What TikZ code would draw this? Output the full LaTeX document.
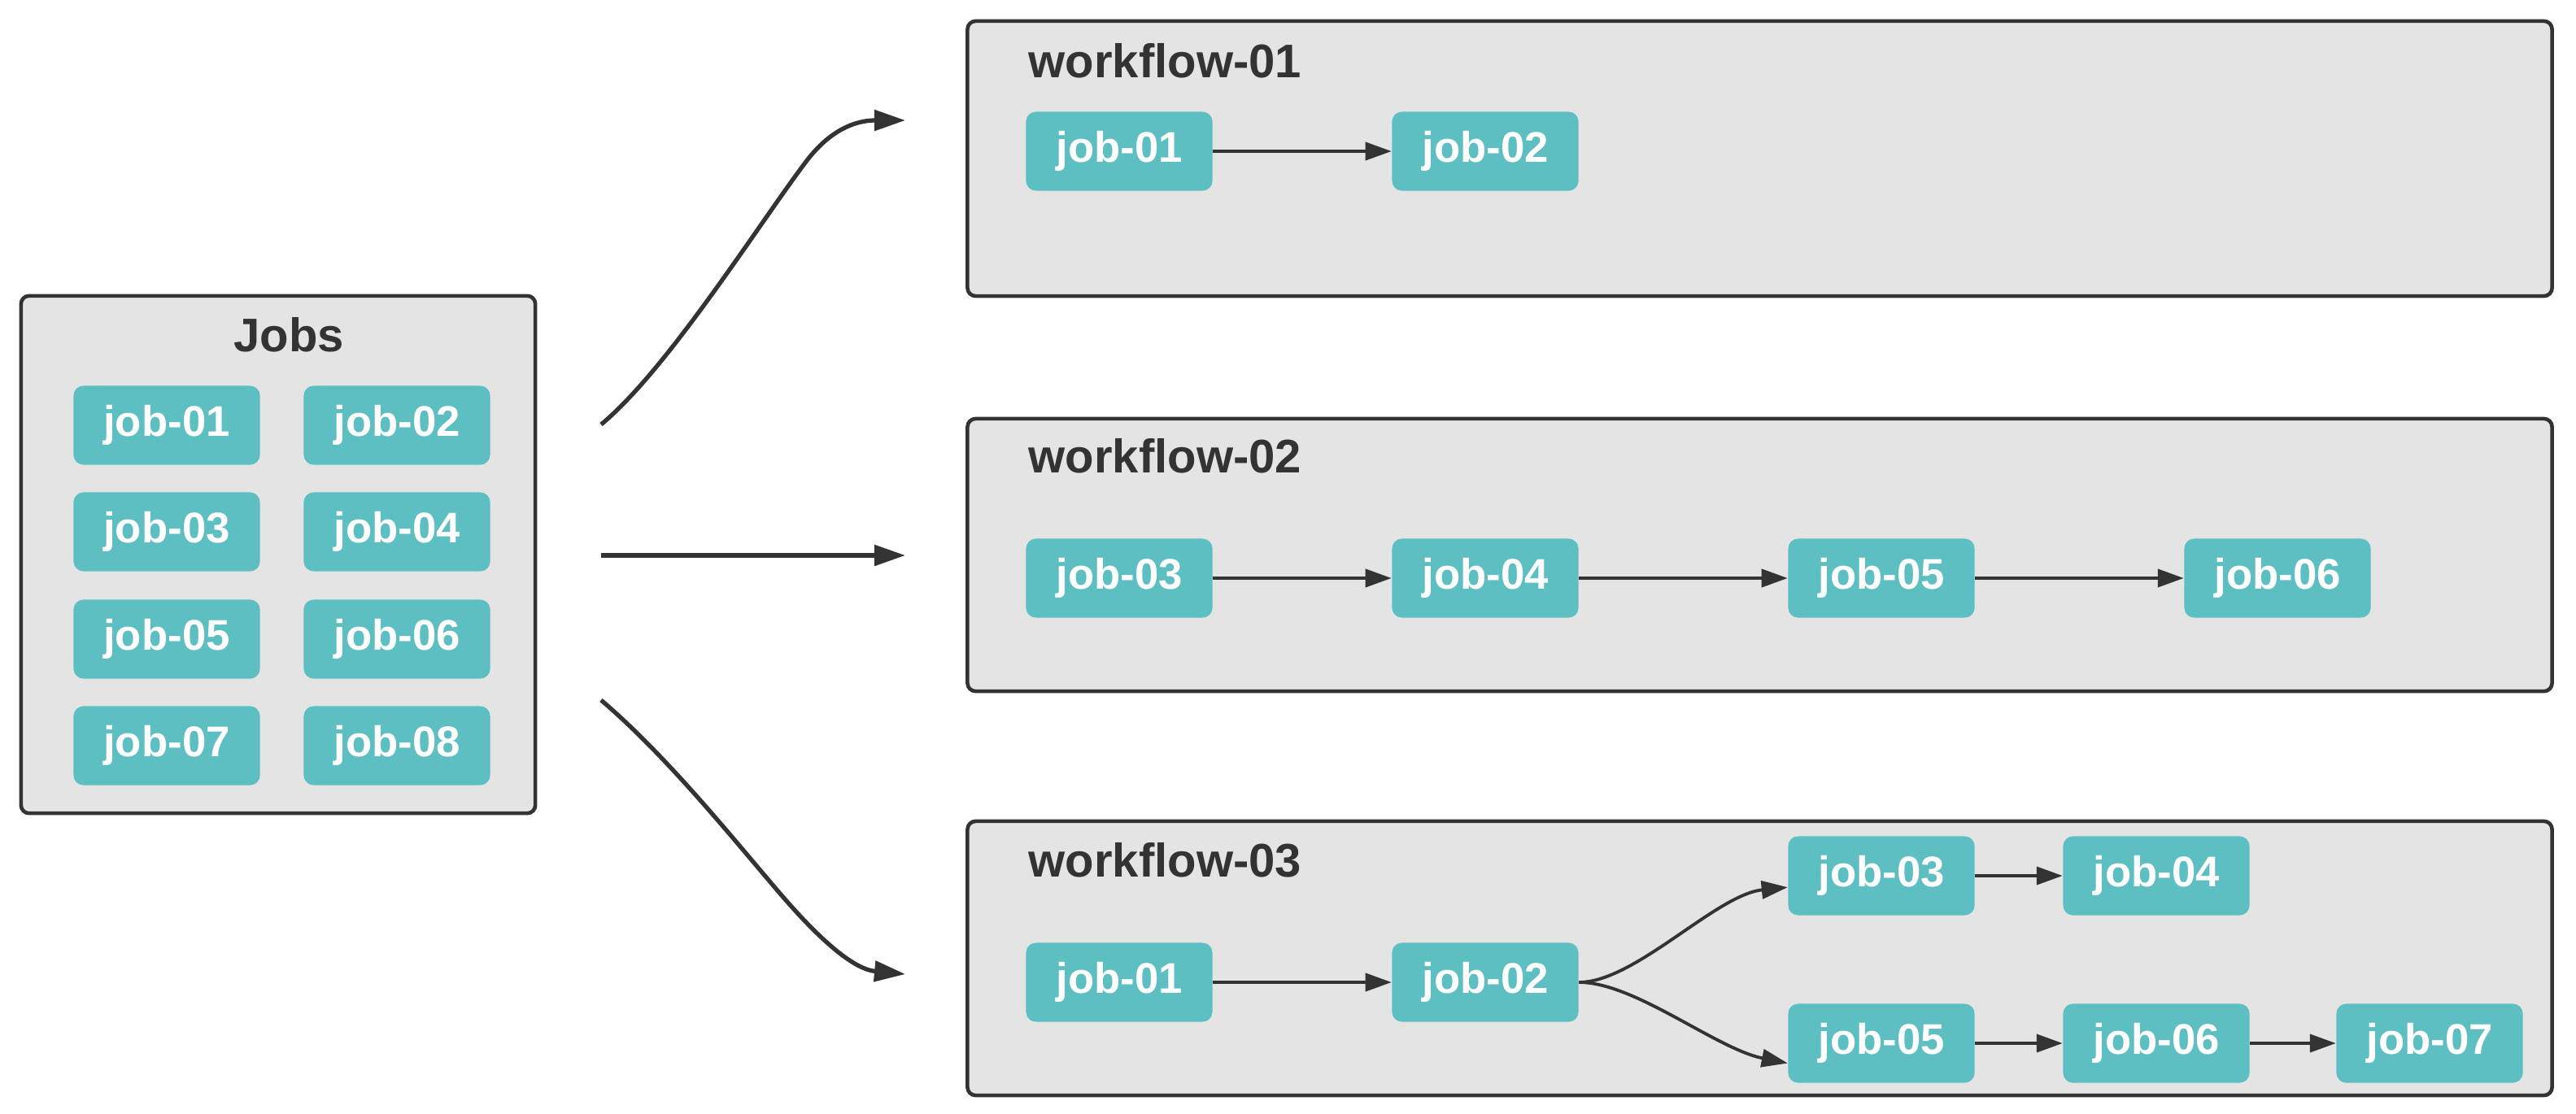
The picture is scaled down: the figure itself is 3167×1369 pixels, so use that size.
\documentclass[tikz,border=0pt]{standalone}
\usepackage{fontspec}
\setmainfont{Liberation Sans}
\usetikzlibrary{arrows.meta}
\definecolor{teal}{HTML}{5DBFC1}
\definecolor{panel}{HTML}{E4E4E4}
\definecolor{ink}{HTML}{333333}
\tikzset{
  outerbox/.style={draw=ink, fill=panel, line width=1.3pt, rounded corners=0.1cm, inner sep=0pt},
  jobbox/.style={fill=teal, rounded corners=0.12cm, minimum width=2.29cm, minimum height=0.97cm, inner sep=0pt,
     text=white, font=\fontsize{15}{18}\selectfont\bfseries},
  title/.style={text=ink, font=\fontsize{16.5}{20}\selectfont\bfseries, inner sep=0pt},
  flow/.style={draw=ink, line width=1.1pt, -{Triangle[length=0.32cm,width=0.22cm]}},
  bigflow/.style={draw=ink, line width=1.5pt, -{Triangle[length=0.38cm,width=0.25cm]}}
}
\begin{document}
\begin{tikzpicture}[x=0.01cm,y=-0.01cm]
\useasboundingbox (0,0) rectangle (3167,1369);
% Jobs pool
\node[outerbox, minimum width=6.32cm, minimum height=6.36cm] (jobs) at (342,682) {};
\node[title, anchor=center] (jobstitle) at (355,412) {Jobs};
\node[jobbox] (p1) at (205,523) {job-01};
\node[jobbox] (p2) at (488,523) {job-02};
\node[jobbox] (p3) at (205,654) {job-03};
\node[jobbox] (p4) at (488,654) {job-04};
\node[jobbox] (p5) at (205,786) {job-05};
\node[jobbox] (p6) at (488,786) {job-06};
\node[jobbox] (p7) at (205,917) {job-07};
\node[jobbox] (p8) at (488,917) {job-08};
% workflow containers
\node[outerbox, minimum width=19.47cm, minimum height=3.38cm] (wf1) at (2163.5,195) {};
\node[outerbox, minimum width=19.47cm, minimum height=3.35cm] (wf2) at (2163.5,682.5) {};
\node[outerbox, minimum width=19.47cm, minimum height=3.37cm] (wf3) at (2163.5,1178.5) {};
\node[title, anchor=west] (t1) at (1264,75) {workflow-01};
\node[title, anchor=west] (t2) at (1264,561) {workflow-02};
\node[title, anchor=west] (t3) at (1264,1058) {workflow-03};
% workflow-01
\node[jobbox] (a1) at (1376,186) {job-01};
\node[jobbox] (a2) at (1826,186) {job-02};
\draw[flow] (a1) -- (a2);
% workflow-02
\node[jobbox] (b3) at (1376,711) {job-03};
\node[jobbox] (b4) at (1826,711) {job-04};
\node[jobbox] (b5) at (2313,711) {job-05};
\node[jobbox] (b6) at (2800,711) {job-06};
\draw[flow] (b3) -- (b4);
\draw[flow] (b4) -- (b5);
\draw[flow] (b5) -- (b6);
% workflow-03
\node[jobbox] (c1) at (1376,1208) {job-01};
\node[jobbox] (c2) at (1826,1208) {job-02};
\node[jobbox] (c3) at (2313,1077) {job-03};
\node[jobbox] (c4) at (2651,1077) {job-04};
\node[jobbox] (c5) at (2313,1283) {job-05};
\node[jobbox] (c6) at (2651,1283) {job-06};
\node[jobbox] (c7) at (2987,1283) {job-07};
\draw[flow] (c1) -- (c2);
\draw[flow] (c2.east) .. controls (2010,1208) and (2110,1100) .. (c3.187);
\draw[flow] (c2.east) .. controls (2010,1208) and (2110,1290) .. (c5.192);
\draw[flow] (c3) -- (c4);
\draw[flow] (c5) -- (c6);
\draw[flow] (c6) -- (c7);
% distribution arrows
\coordinate (s1) at (739,522);
\coordinate (e1) at (1113,148);
\coordinate (s2) at (739,683);
\coordinate (e2) at (1113,683);
\coordinate (s3) at (739,861);
\coordinate (e3) at (1113,1198);
\draw[bigflow] (s1) .. controls (820,455) and (930,280) .. (990,200) .. controls (1025,153) and (1060,148) .. (e1);
\draw[bigflow] (s2) -- (e2);
\draw[bigflow] (s3) .. controls (820,930) and (900,1030) .. (960,1100) .. controls (1010,1158) and (1050,1192) .. (e3);
\end{tikzpicture}
\end{document}
